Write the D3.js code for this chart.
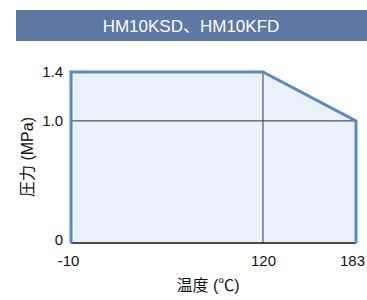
<!DOCTYPE html>
<html>
  <head>
    <meta charset="utf-8">
    <script src="https://d3js.org/d3.v7.min.js"></script>
    <style>
      body { margin: 0; background: #fff; }
      svg text { font-family: "Liberation Sans", Arial, "Noto Sans CJK JP", sans-serif; fill: #111; }
    </style>
  </head>
  <body>
    <svg id="chart" width="367" height="300"></svg>
    <script>
      // data
      const title = "HM10KSD、HM10KFD";
      const temps = [-10, -10, 120, 183, 183];
      const pressures = [0, 1.4, 1.4, 1.0, 0];
      const xTicks = [-10, 120, 183];
      const yTicks = [0, 1.0, 1.4];
      const xLabel = "温度 (℃)";
      const yLabel = "圧力 (MPa)";

      const svg = d3.select("svg#chart");
      const margin = { top: 72, right: 11, bottom: 57, left: 71 };
      const w = 367 - margin.left - margin.right;
      const h = 300 - margin.top - margin.bottom;

      // title banner
      svg.append("rect")
        .attr("x", 16).attr("y", 10)
        .attr("width", 351).attr("height", 31)
        .attr("fill", "#5d78a1");
      svg.append("text")
        .attr("x", 191).attr("y", 26)
        .attr("text-anchor", "middle")
        .attr("dominant-baseline", "central")
        .style("fill", "#fff")
        .style("font-size", "17px")
        .text(title);

      const x = d3.scaleLinear().domain([-10, 183]).range([0, w]);
      const y = d3.scaleLinear().domain([0, 1.4]).range([h, 0]);

      const g = svg.append("g")
        .attr("transform", "translate(" + margin.left + "," + margin.top + ")");

      const pts = temps.map((t, i) => [x(t), y(pressures[i])]);

      g.append("path")
        .attr("d", d3.line()(pts) + "Z")
        .attr("fill", "#eaf1fa");

      // grid lines
      g.append("line")
        .attr("x1", x(-10)).attr("x2", x(183))
        .attr("y1", y(1.0)).attr("y2", y(1.0))
        .attr("stroke", "#555").attr("stroke-width", 1.2);
      g.append("line")
        .attr("x1", x(120)).attr("x2", x(120))
        .attr("y1", y(1.4)).attr("y2", y(0))
        .attr("stroke", "#555").attr("stroke-width", 1.2);

      // baseline
      g.append("line")
        .attr("x1", x(-10)).attr("x2", x(183))
        .attr("y1", y(0)).attr("y2", y(0))
        .attr("stroke", "#111").attr("stroke-width", 1.5);

      // outline
      g.append("path")
        .attr("d", d3.line()(pts))
        .attr("fill", "none")
        .attr("stroke", "#5b8bc4")
        .attr("stroke-width", 3)
        .attr("stroke-linejoin", "miter");

      const tickFont = "'Liberation Sans', Arial, sans-serif";

      // axes (labels only)
      const xAxis = g.append("g")
        .attr("transform", "translate(0," + h + ")")
        .call(d3.axisBottom(x).tickValues(xTicks).tickSize(0).tickPadding(12).tickFormat(d => String(d)));
      xAxis.select(".domain").remove();
      xAxis.selectAll("text")
        .style("font-family", tickFont)
        .style("font-size", "15px");
      xAxis.selectAll(".tick").filter(d => d === 183).select("text").attr("dx", "-4");
      xAxis.selectAll(".tick").filter(d => d === -10).select("text").attr("dx", "-3");

      const yAxis = g.append("g")
        .call(d3.axisLeft(y).tickValues(yTicks).tickSize(0).tickPadding(8).tickFormat(d => d === 0 ? "0" : d.toFixed(1)));
      yAxis.select(".domain").remove();
      yAxis.selectAll("text")
        .style("font-family", tickFont)
        .style("font-size", "15px");
      yAxis.selectAll(".tick").filter(d => d === 0).select("text").attr("dy", "0.1em");

      svg.append("text")
        .attr("x", 208).attr("y", 291)
        .attr("text-anchor", "middle")
        .style("font-size", "16px")
        .text(xLabel);
      svg.append("text")
        .attr("transform", "translate(27,157) rotate(-90)")
        .attr("text-anchor", "middle")
        .attr("dominant-baseline", "central")
        .style("font-size", "16px")
        .text(yLabel);
    </script>
  </body>
</html>
